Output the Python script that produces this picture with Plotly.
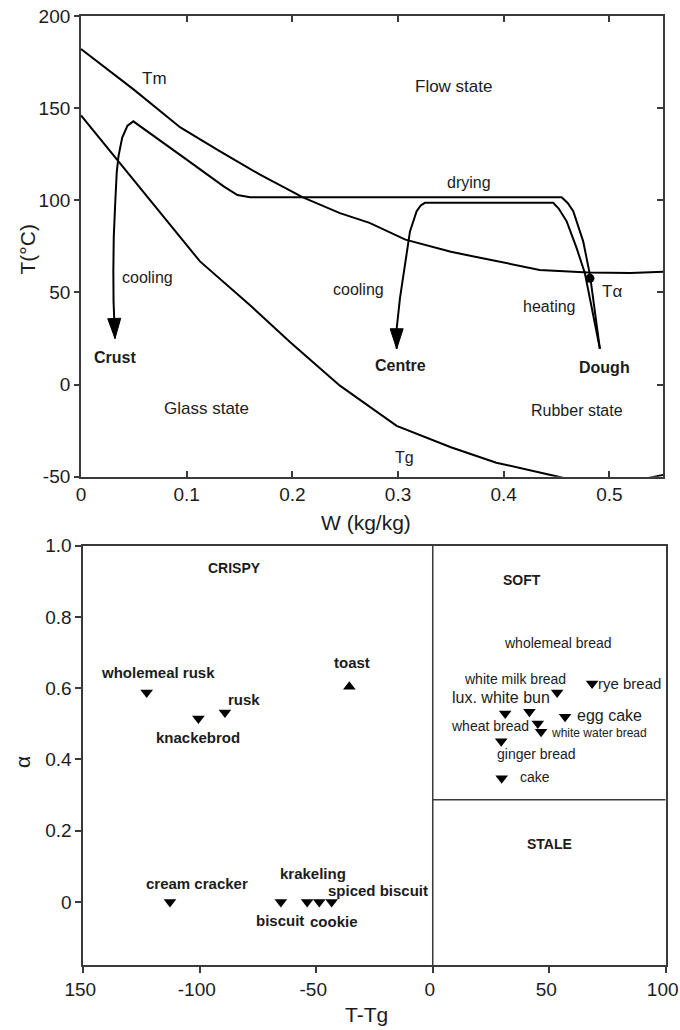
import math
import plotly.graph_objects as go

# ---------------- data: state diagram (top) ----------------
tm_w = [0, 0.05, 0.094, 0.13, 0.169, 0.21, 0.245, 0.273, 0.307, 0.35, 0.387, 0.434, 0.48, 0.52, 0.551]
tm_t = [182, 160, 139.5, 127, 114, 101.5, 93, 87.7, 78.6, 72, 67.7, 62.2, 60.8, 60.5, 61.2]

tg_w = [0, 0.05, 0.1126, 0.16, 0.198, 0.245, 0.2987, 0.35, 0.393, 0.456, 0.5, 0.53, 0.551]
tg_t = [146, 111, 66.8, 43, 23, -0.6, -22.4, -34, -42.4, -50.6, -52, -51.5, -49]

# dough -> heating -> drying -> cooling -> crust
crust_w = [0.491, 0.4863, 0.4816, 0.4752, 0.4658, 0.4605, 0.4548, 0.30, 0.16, 0.148, 0.135, 0.1, 0.07,
           0.0495, 0.044, 0.039, 0.0355, 0.0338, 0.0325, 0.031, 0.0306, 0.0308, 0.0322]
crust_t = [19.4, 39.5, 59.5, 77.7, 94.0, 98.5, 101.6, 101.6, 101.6, 102.8, 107.5, 122, 134.5,
           142.8, 140.5, 134, 124, 115, 100, 80, 62, 45, 25]

# dough -> heating -> drying -> cooling -> centre
centre_w = [0.491, 0.4839, 0.4768, 0.469, 0.4595, 0.452, 0.4468, 0.33, 0.3254, 0.3215, 0.3176,
            0.3113, 0.3065, 0.3018, 0.2987, 0.2987]
centre_t = [19.4, 39.5, 60.4, 74, 88.6, 95.5, 98.6, 98.6, 98.6, 97.2, 94.0,
            83.1, 65, 46.7, 30.3, 19.4]

t_alpha_w = [0.4816]
t_alpha_t = [57.6]

top_x_ticks = [0, 0.1, 0.2, 0.3, 0.4, 0.5]
top_x_ticktext = ["0", "0.1", "0.2", "0.3", "0.4", "0.5"]
top_y_ticks = [-50, 0, 50, 100, 150, 200]
top_y_ticktext = ["-50", "0", "50", "100", "150", "200"]

# ---------------- data: crispness map (bottom) ----------------
crispy_names = ["wholemeal rusk", "knackebrod", "rusk", "cream cracker", "biscuit",
                "krakeling", "cookie", "spiced biscuit"]
crispy_x = [-122.8, -100.6, -89.2, -112.8, -65.2, -53.9, -48.7, -43.4]
crispy_a = [0.588, 0.515, 0.532, 0, 0, 0, 0, 0]

toast_names = ["toast"]
toast_x = [-35.8]
toast_a = [0.604]

soft_names = ["wheat bread", "lux. white bun", "wholemeal bread", "white water bread",
              "white milk bread", "egg cake", "rye bread", "ginger bread", "cake"]
soft_x = [31.1, 41.5, 45.1, 46.5, 53.4, 56.8, 68.4, 29.4, 29.6]
soft_a = [0.529, 0.534, 0.501, 0.478, 0.588, 0.520, 0.613, 0.451, 0.347]

crisp_soft_boundary_T = 0
soft_stale_boundary_a = 0.287

bot_x_ticks = [-150, -100, -50, 0, 50, 100]
bot_x_ticktext = ["150", "-100", "-50", "0", "50", "100"]
bot_y_ticks = [0, 0.2, 0.4, 0.6, 0.8, 1.0]
bot_y_ticktext = ["0", "0.2", "0.4", "0.6", "0.8", "1.0"]

# ---------------- layout constants ----------------
FIG_W, FIG_H = 680, 1030
FONT = "Liberation Sans, Arial, sans-serif"
INK = "#1c1c1c"
AXC = "#3a3a3a"


def fx(px):
    return px / FIG_W


def fy(py):
    return 1 - py / FIG_H


TOP_XDOM = [fx(81), fx(663.3)]
TOP_YDOM = [fy(476.7), fy(15.9)]
TOP_XR = [0, 0.551]
TOP_YR = [-50, 200]

BOT_XDOM = [fx(83.3), fx(665.7)]
BOT_YDOM = [fy(965), fy(545.7)]
BOT_XR = [-150, 100]
BOT_YR = [-0.177, 1.0]

# label placement (data coordinates of text centres, font size, bold)
TOP_LABELS = [
    ("Tm", 0.070, 165.9, 17, False),
    ("Flow state", 0.352, 161.8, 17, False),
    ("drying", 0.367, 109.5, 16, False),
    ("cooling", 0.063, 58.1, 16, False),
    ("cooling", 0.263, 51.7, 16, False),
    ("heating", 0.443, 42.2, 16, False),
    ("Tα", 0.502, 50.4, 17, False),
    ("Crust", 0.0325, 14.9, 16, True),
    ("Centre", 0.302, 10.2, 16, True),
    ("Dough", 0.495, 9.0, 16, True),
    ("Glass state", 0.119, -12.9, 17, False),
    ("Rubber state", 0.469, -14.2, 16, False),
    ("Tg", 0.306, -39.7, 16, False),
]
BOT_LABELS = [
    ("CRISPY", -84.9, 0.937, 14, True),
    ("SOFT", 38.3, 0.904, 14, True),
    ("STALE", 50.3, 0.164, 14, True),
    ("wholemeal rusk", -117.8, 0.644, 15, True),
    ("rusk", -81.0, 0.567, 15, True),
    ("knackebrod", -100.6, 0.461, 15, True),
    ("toast", -34.8, 0.672, 15, True),
    ("cream cracker", -101.3, 0.052, 15, True),
    ("krakeling", -51.5, 0.079, 15, True),
    ("spiced biscuit", -23.7, 0.031, 15, True),
    ("biscuit", -65.7, -0.051, 15, True),
    ("cookie", -42.3, -0.056, 15, True),
    ("wholemeal bread", 53.6, 0.726, 14, False),
    ("white milk bread", 35.1, 0.626, 14, False),
    ("rye bread", 84.5, 0.612, 15, False),
    ("lux. white bun", 29.4, 0.573, 16, False),
    ("egg cake", 76.0, 0.522, 16, False),
    ("wheat bread", 24.6, 0.494, 14, False),
    ("white water bread", 71.2, 0.473, 12, False),
    ("ginger bread", 44.5, 0.415, 14, False),
    ("cake", 44.1, 0.351, 14, False),
]


def px_per_unit(dom, rng, total):
    return (dom[1] - dom[0]) * total / (rng[1] - rng[0])


def arrow_head(xs, ys, sx, sy, length=20, width=13):
    xt, yt = xs[-1], ys[-1]
    xp, yp = xs[-2], ys[-2]
    dx, dy = (xt - xp) * sx, (yt - yp) * sy
    n = math.hypot(dx, dy)
    ux, uy = dx / n, dy / n
    bx, by = -ux * length, -uy * length
    p1 = (bx - uy * width / 2, by + ux * width / 2)
    p2 = (bx + uy * width / 2, by - ux * width / 2)
    hx = [xt, xt + p1[0] / sx, xt + p2[0] / sx, xt]
    hy = [yt, yt + p1[1] / sy, yt + p2[1] / sy, yt]
    return hx, hy


fig = go.Figure()
line_style = dict(color="black", width=2)

for xs, ys in [(tm_w, tm_t), (tg_w, tg_t), (crust_w, crust_t), (centre_w, centre_t)]:
    fig.add_trace(go.Scatter(x=xs, y=ys, mode="lines", line=line_style,
                             xaxis="x", yaxis="y", showlegend=False, hoverinfo="skip"))

sx = px_per_unit(TOP_XDOM, TOP_XR, FIG_W)
sy = px_per_unit(TOP_YDOM, TOP_YR, FIG_H)
for xs, ys in [(crust_w, crust_t), (centre_w, centre_t)]:
    hx, hy = arrow_head(xs, ys, sx, sy)
    fig.add_trace(go.Scatter(x=hx, y=hy, mode="lines", fill="toself", fillcolor="black",
                             line=dict(color="black", width=1), xaxis="x", yaxis="y",
                             showlegend=False, hoverinfo="skip"))

fig.add_trace(go.Scatter(x=t_alpha_w, y=t_alpha_t, mode="markers",
                         marker=dict(color="black", size=9, symbol="circle"),
                         xaxis="x", yaxis="y", showlegend=False))

# bottom markers
fig.add_trace(go.Scatter(x=crispy_x, y=crispy_a, text=crispy_names, mode="markers",
                         marker=dict(color="black", size=11, symbol="triangle-down"),
                         xaxis="x2", yaxis="y2", showlegend=False))
fig.add_trace(go.Scatter(x=toast_x, y=toast_a, text=toast_names, mode="markers",
                         marker=dict(color="black", size=11, symbol="triangle-up"),
                         xaxis="x2", yaxis="y2", showlegend=False))
fig.add_trace(go.Scatter(x=soft_x, y=soft_a, text=soft_names, mode="markers",
                         marker=dict(color="black", size=11, symbol="triangle-down"),
                         xaxis="x2", yaxis="y2", showlegend=False))

annotations = []
for txt, x, y, size, bold in TOP_LABELS:
    annotations.append(dict(text=f"<b>{txt}</b>" if bold else txt, x=x, y=y, xref="x", yref="y",
                            showarrow=False, xanchor="center", yanchor="middle",
                            font=dict(family=FONT, size=size, color=INK)))
for txt, x, y, size, bold in BOT_LABELS:
    annotations.append(dict(text=f"<b>{txt}</b>" if bold else txt, x=x, y=y, xref="x2", yref="y2",
                            showarrow=False, xanchor="center", yanchor="middle",
                            font=dict(family=FONT, size=size, color=INK)))

# axis titles
for txt, xp, yp, ang in [("T(°C)", 26.5, 250, -90), ("W (kg/kg)", 366, 522, 0),
                         ("α", 22, 762, -90), ("T-Tg", 366.7, 1014, 0)]:
    annotations.append(dict(text=txt, x=fx(xp), y=fy(yp), xref="paper", yref="paper",
                            showarrow=False, xanchor="center", yanchor="middle", textangle=ang,
                            font=dict(family=FONT, size=21, color=INK)))

shapes = [
    dict(type="line", xref="x2", yref="y2 domain", x0=crisp_soft_boundary_T, x1=crisp_soft_boundary_T,
         y0=0, y1=1, line=dict(color=AXC, width=1.5)),
    dict(type="line", xref="x2", yref="y2", x0=crisp_soft_boundary_T, x1=BOT_XR[1],
         y0=soft_stale_boundary_a, y1=soft_stale_boundary_a, line=dict(color=AXC, width=1.5)),
]

tickfont = dict(family=FONT, size=19, color=INK)
common = dict(showgrid=False, zeroline=False, showline=True, linecolor=AXC, linewidth=1.8,
              tickcolor=AXC, tickwidth=1.5, tickfont=tickfont, automargin=False,
              ticklabeloverflow="allow")

fig.update_layout(
    width=FIG_W, height=FIG_H,
    margin=dict(l=0, r=0, t=0, b=0),
    paper_bgcolor="white", plot_bgcolor="white",
    showlegend=False,
    xaxis=dict(domain=TOP_XDOM, range=TOP_XR, anchor="y", tickmode="array",
               tickvals=top_x_ticks, ticktext=top_x_ticktext, ticks="inside", ticklen=6,
               mirror="ticks", **common),
    yaxis=dict(domain=TOP_YDOM, range=TOP_YR, anchor="x", tickmode="array",
               tickvals=top_y_ticks, ticktext=top_y_ticktext, ticks="outside", ticklen=5,
               mirror=True, **common),
    yaxis3=dict(range=TOP_YR, overlaying="y", anchor="x", side="right", tickmode="array",
                tickvals=top_y_ticks, ticks="inside", ticklen=6, showticklabels=False,
                showgrid=False, zeroline=False, showline=False, tickcolor=AXC, tickwidth=1.5),
    xaxis2=dict(domain=BOT_XDOM, range=BOT_XR, anchor="y2", tickmode="array",
                tickvals=bot_x_ticks, ticktext=bot_x_ticktext, ticks="outside", ticklen=6,
                mirror=True, ticklabelshift=-3, **common),
    yaxis2=dict(domain=BOT_YDOM, range=BOT_YR, anchor="x2", tickmode="array",
                tickvals=bot_y_ticks, ticktext=bot_y_ticktext, ticks="outside", ticklen=6,
                mirror=True, **common),
    annotations=annotations,
    shapes=shapes,
)

# invisible trace so the right-side tick axis is drawn
fig.add_trace(go.Scatter(x=[None], y=[None], xaxis="x", yaxis="y3", showlegend=False))

# the page's default body margin would push the 680x1030 figure off-screen
fig.write_html("out.html",
               config={"displayModeBar": False},
               post_script="document.body.style.margin='0';document.body.style.overflow='hidden';")
